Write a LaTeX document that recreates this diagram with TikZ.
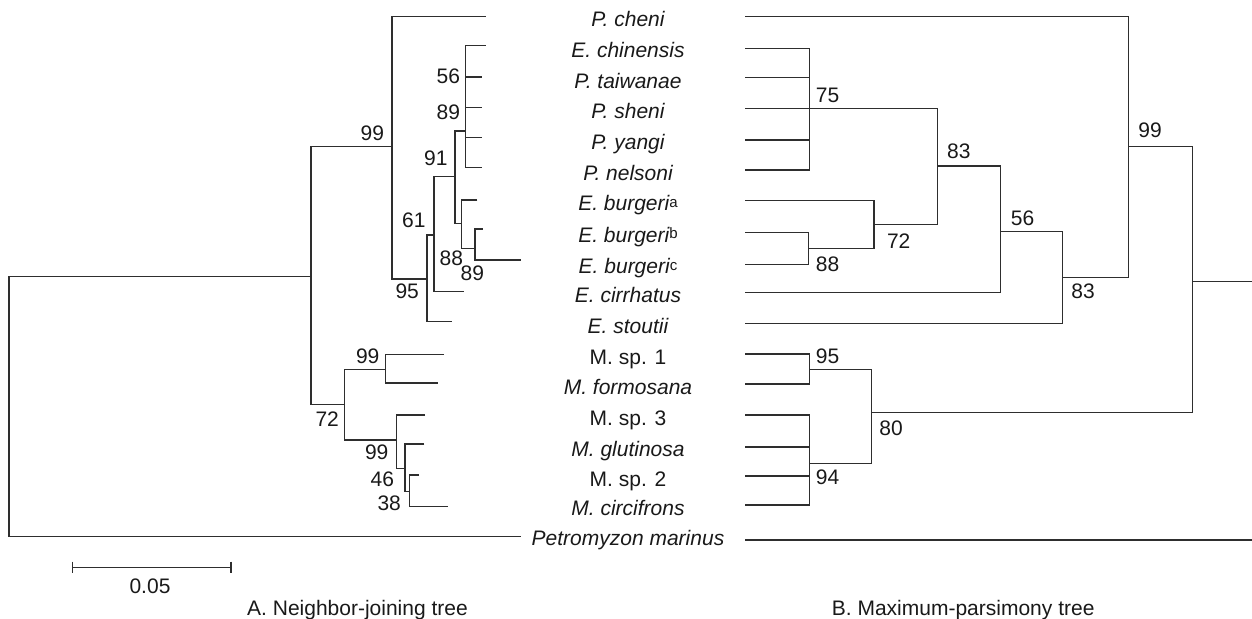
\documentclass[tikz,border=0pt]{standalone}
\usepackage{fontspec}
\setmainfont{Liberation Sans}
\newcommand\burgsup[1]{\raisebox{3.5pt}{\fontsize{15}{15}\selectfont\upshape #1}}
\begin{document}
\begin{tikzpicture}[x=1pt,y=-1pt,
  branch/.style={draw=black!82, line width=1.5pt},
  taxon/.style={anchor=base, inner sep=0pt, text=black!90,
    font=\fontsize{21}{25}\selectfont\itshape},
  taxonup/.style={taxon, font=\fontsize{21}{25}\selectfont\upshape},
  boot/.style={anchor=center, inner sep=0pt, text=black!90,
    font=\fontsize{21}{25}\selectfont},
  caption/.style={anchor=base west, inner sep=0pt, text=black!90,
    font=\fontsize{21}{25}\selectfont}]
\useasboundingbox (0,0) rectangle (1252,618);

% ---------------- taxon names (shared column) ----------------
\node[taxon]   (lPc)  at (628,26.7)  {P. cheni};
\node[taxon]   (lEch) at (628,58.0)  {E. chinensis};
\node[taxon]   (lPt)  at (628,88.2)  {P. taiwanae};
\node[taxon]   (lPs)  at (628,118.7) {P. sheni};
\node[taxon]   (lPy)  at (628,149.7) {P. yangi};
\node[taxon]   (lPn)  at (628,180.2) {P. nelsoni};
\node[taxon]   (lBa)  at (628,210.7) {E. burgeri\burgsup{a}};
\node[taxon]   (lBb)  at (628,242.0) {E. burgeri\burgsup{b}};
\node[taxon]   (lBc)  at (628,273.5) {E. burgeri\burgsup{c}};
\node[taxon]   (lEci) at (628,302.5) {E. cirrhatus};
\node[taxon]   (lEs)  at (628,333.3) {E. stoutii};
\node[taxonup] (lM1)  at (628,364.0) {M. sp. 1};
\node[taxon]   (lMf)  at (628,394.2) {M. formosana};
\node[taxonup] (lM3)  at (628,425.0) {M. sp. 3};
\node[taxon]   (lMg)  at (628,456.5) {M. glutinosa};
\node[taxonup] (lM2)  at (628,486.0) {M. sp. 2};
\node[taxon]   (lMc)  at (628,515.5) {M. circifrons};
\node[taxon]   (lPm)  at (628,545.0) {Petromyzon marinus};

% ---------------- A: neighbor-joining tree ----------------
% internal nodes (x = vertical bar, y = where the parent branch joins)
\coordinate (nR) at (9,406.7);
\coordinate (nA) at (311,276.7);
\coordinate (nB) at (392,146.7);
\coordinate (nC) at (427,279);
\coordinate (nD) at (434,235);
\coordinate (nF) at (455,176.7);
\coordinate (nG) at (465.7,131);
\coordinate (nH) at (461.7,223.3);
\coordinate (nI) at (475,248.3);
\coordinate (nM) at (344.3,404.3);
\coordinate (nN) at (385.7,369.3);
\coordinate (nO) at (396.7,440);
\coordinate (nP) at (405,468.3);
\coordinate (nQ) at (409.3,491.7);
% tips
\coordinate (aPc)  at (485.7,16.7);
\coordinate (aEch) at (485.7,45.7);
\coordinate (aPt)  at (482.3,77);
\coordinate (aPs)  at (482.3,107.3);
\coordinate (aPy)  at (482.3,137.3);
\coordinate (aPn)  at (482.3,167.7);
\coordinate (aBa)  at (477.3,200);
\coordinate (aBb)  at (482.7,229);
\coordinate (aBc)  at (520.7,260);
\coordinate (aEci) at (464,291.7);
\coordinate (aEs)  at (452,321.7);
\coordinate (aM1)  at (444,354.3);
\coordinate (aMf)  at (438.3,383);
\coordinate (aM3)  at (425,415);
\coordinate (aMg)  at (424.3,444);
\coordinate (aM2)  at (419,475);
\coordinate (aMc)  at (447.7,506.7);
\coordinate (aPm)  at (521,536.7);

% each bracket: upper child -> bar -> lower child, drawn as one stroke
\draw[branch] (nA) -| (nR) |- (aPm);
\draw[branch] (nB) -| (nA) |- (nM);
\draw[branch] (aPc) -| (nB) |- (nC);
\draw[branch] (nD) -| (nC) |- (aEs);
\draw[branch] (nF) -| (nD) |- (aEci);
\draw[branch] (nG) -| (nF) |- (nH);
\draw[branch] (aEch) -| (nG) |- (aPn);
\draw[branch] (nG |- aPt) -- (aPt);
\draw[branch] (nG |- aPs) -- (aPs);
\draw[branch] (nG |- aPy) -- (aPy);
\draw[branch] (aBa) -| (nH) |- (nI);
\draw[branch] (aBb) -| (nI) |- (aBc);
\draw[branch] (nN) -| (nM) |- (nO);
\draw[branch] (aM1) -| (nN) |- (aMf);
\draw[branch] (aM3) -| (nO) |- (nP);
\draw[branch] (aMg) -| (nP) |- (nQ);
\draw[branch] (aM2) -| (nQ) |- (aMc);

% bootstrap values
\node[boot] (bA99) at (372.3,133.3) {99};
\node[boot] (bA56) at (448.3,76.5)  {56};
\node[boot] (bA89) at (448.3,111.8) {89};
\node[boot] (bA91) at (435.8,158.2) {91};
\node[boot] (bA61) at (413.8,219.8) {61};
\node[boot] (bA88) at (451.3,258.3) {88};
\node[boot] (bA89b) at (472.3,273.3) {89};
\node[boot] (bA95) at (407.2,291.7) {95};
\node[boot] (bA99m) at (367.7,355.8) {99};
\node[boot] (bA72) at (327.2,419.2) {72};
\node[boot] (bA99l) at (376.7,452.5) {99};
\node[boot] (bA46) at (382.3,479.2) {46};
\node[boot] (bA38) at (389.2,503.2) {38};

% scale bar
\coordinate (sbL) at (72.7,567.3);
\coordinate (sbR) at (231,567.3);
\draw[branch] (sbL) -- (sbR);
\draw[branch] ([yshift=5.8pt]sbL) -- ([yshift=-5.8pt]sbL);
\draw[branch] ([yshift=5.8pt]sbR) -- ([yshift=-5.8pt]sbR);
\node[boot] (sbLab) at (150,585.8) {0.05};

% ---------------- B: maximum-parsimony tree ----------------
\coordinate (mRoot) at (1192.3,281.7);
\coordinate (mEdge) at (1252,281.7);
\coordinate (m99)  at (1128.3,146.7);
\coordinate (m83b) at (1062.7,277.7);
\coordinate (m56)  at (1000.7,231.7);
\coordinate (m83a) at (937.7,166);
\coordinate (m75)  at (809.3,108.7);
\coordinate (m72)  at (874,224.3);
\coordinate (m88)  at (808.7,248.3);
\coordinate (m80)  at (871.7,412.5);
\coordinate (m95)  at (809.3,369.3);
\coordinate (m94)  at (809.3,463.3);
% tips
\coordinate (bPc)  at (745,16.7);
\coordinate (bEch) at (745,48.3);
\coordinate (bPt)  at (745,77.7);
\coordinate (bPs)  at (745,108.7);
\coordinate (bPy)  at (745,140);
\coordinate (bPn)  at (745,170);
\coordinate (bBa)  at (745,200.7);
\coordinate (bBb)  at (745,232.3);
\coordinate (bBc)  at (745,264.3);
\coordinate (bEci) at (745,292.3);
\coordinate (bEs)  at (745,323.3);
\coordinate (bM1)  at (745,354);
\coordinate (bMf)  at (745,384);
\coordinate (bM3)  at (745,415);
\coordinate (bMg)  at (745,447);
\coordinate (bM2)  at (745,476);
\coordinate (bMc)  at (745,505);
\coordinate (bPm)  at (745,540);
\coordinate (bPmE) at (1252,540);

\draw[branch] (mRoot) -- (mEdge);
\draw[branch] (m99) -| (mRoot) |- (m80);
\draw[branch] (bPc) -| (m99) |- (m83b);
\draw[branch] (m56) -| (m83b) |- (bEs);
\draw[branch] (m83a) -| (m56) |- (bEci);
\draw[branch] (m75) -| (m83a) |- (m72);
\draw[branch] (bEch) -| (m75) |- (bPn);
\draw[branch] (m75 |- bPt) -- (bPt);
\draw[branch] (m75 |- bPs) -- (bPs);
\draw[branch] (m75 |- bPy) -- (bPy);
\draw[branch] (bBa) -| (m72) |- (m88);
\draw[branch] (bBb) -| (m88) |- (bBc);
\draw[branch] (m95) -| (m80) |- (m94);
\draw[branch] (bM1) -| (m95) |- (bMf);
\draw[branch] (bM3) -| (m94) |- (bMc);
\draw[branch] (m94 |- bMg) -- (bMg);
\draw[branch] (m94 |- bM2) -- (bM2);
\draw[branch] (bPm) -- (bPmE);

% bootstrap values
\node[boot] (bB75)  at (827.5,95.3)   {75};
\node[boot] (bB83a) at (958.8,150.8)  {83};
\node[boot] (bB72)  at (898.7,240.8)  {72};
\node[boot] (bB88)  at (827.5,264.5)  {88};
\node[boot] (bB56)  at (1022.5,218.2) {56};
\node[boot] (bB83b) at (1083,291.5)   {83};
\node[boot] (bB99)  at (1150,129.8)   {99};
\node[boot] (bB95)  at (827.5,356.2)  {95};
\node[boot] (bB80)  at (891,428.2)    {80};
\node[boot] (bB94)  at (827.5,476.8)  {94};

% captions
\node[caption] (capA) at (247,615.5)   {A. Neighbor-joining tree};
\node[caption] (capB) at (831.7,615.2) {B. Maximum-parsimony tree};
\end{tikzpicture}
\end{document}
